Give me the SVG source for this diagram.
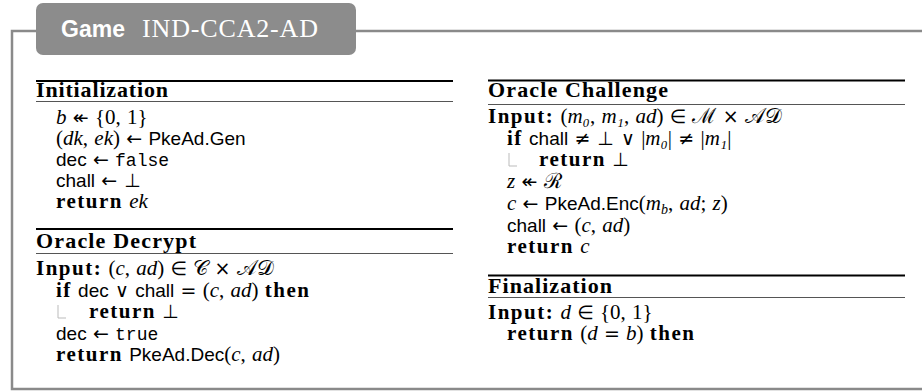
<svg xmlns="http://www.w3.org/2000/svg" width="922" height="391" viewBox="0 0 922 391">
<style>
.fr{fill:none;stroke:#8a8a8a;stroke-width:2.5}
.thick{stroke:#000;stroke-width:1.8}
.thin{stroke:#555;stroke-width:1}
.t{font-family:"Liberation Serif","DejaVu Serif",serif;font-size:21px;fill:#000;word-spacing:1px}
.b{font-weight:bold;letter-spacing:1.5px}
.h{font-weight:bold;font-size:22px;letter-spacing:0;word-spacing:0}
.i{font-style:italic}
.s{font-family:"Liberation Sans","DejaVu Sans",sans-serif;font-size:19px}
.m{font-family:"Liberation Mono","DejaVu Sans Mono",monospace;font-size:18px}
.y{font-family:"DejaVu Sans",sans-serif;font-size:19px}
.lb{fill:none;stroke:#bbb;stroke-width:1}
</style>
<g id="frame">
<path class="fr" d="M36,31 H12 V389 H922"/>
<path class="fr" d="M356,31 H922"/>
</g>
<g id="title">
<rect x="36" y="3" width="320" height="52" rx="7" fill="#8c8c8c"/>
<text x="61" y="37" font-family="Liberation Sans,sans-serif" font-weight="bold" font-size="23" fill="#fff">Game</text>
<text x="142" y="37" font-family="Liberation Serif,serif" font-size="26" fill="#fff" textLength="176">IND-CCA2-AD</text>
</g>
<g id="initialization">
<line class="thick" x1="36" y1="81" x2="453" y2="81"/>
<text class="t h" x="36" y="97" textLength="132">Initialization</text>
<line class="thin" x1="36" y1="101.5" x2="453" y2="101.5"/>
<text class="t" x="56" y="124"><tspan class="i">b</tspan> <tspan class="y">↞</tspan> {0, 1}</text>
<text class="t" x="56" y="145">(<tspan class="i">dk</tspan>, <tspan class="i">ek</tspan>) <tspan class="y">←</tspan> <tspan class="s">PkeAd.Gen</tspan></text>
<text class="t" x="56" y="166"><tspan class="s">dec</tspan> <tspan class="y">←</tspan> <tspan class="m">false</tspan></text>
<text class="t" x="56" y="187"><tspan class="s">chall</tspan> <tspan class="y">← ⊥</tspan></text>
<text class="t" x="56" y="208"><tspan class="b">return</tspan> <tspan class="i">ek</tspan></text>
</g>
<g id="oracle-decrypt">
<line class="thick" x1="36" y1="229" x2="453" y2="229"/>
<text class="t h" x="36" y="248" textLength="160">Oracle Decrypt</text>
<line class="thin" x1="36" y1="253.5" x2="453" y2="253.5"/>
<text class="t" x="36" y="275"><tspan class="b">Input:</tspan> (<tspan class="i">c</tspan>, <tspan class="i">ad</tspan>) <tspan class="y">∈</tspan> 𝒞 <tspan class="y">×</tspan> 𝒜𝒟</text>
<text class="t" x="56" y="297"><tspan class="b">if</tspan> <tspan class="s">dec</tspan> <tspan class="y">∨</tspan> <tspan class="s">chall</tspan> <tspan class="y">=</tspan> (<tspan class="i">c</tspan>, <tspan class="i">ad</tspan>) <tspan class="b">then</tspan></text>
<path class="lb" d="M58,305 V318 H66"/>
<text class="t" x="89" y="318"><tspan class="b">return</tspan> <tspan class="y">⊥</tspan></text>
<text class="t" x="56" y="340"><tspan class="s">dec</tspan> <tspan class="y">←</tspan> <tspan class="m">true</tspan></text>
<text class="t" x="56" y="361"><tspan class="b">return</tspan> <tspan class="s">PkeAd.Dec</tspan>(<tspan class="i">c</tspan>, <tspan class="i">ad</tspan>)</text>
</g>
<g id="oracle-challenge">
<line class="thick" x1="488" y1="80.5" x2="905" y2="80.5"/>
<text class="t h" x="488" y="97" textLength="180">Oracle Challenge</text>
<line class="thin" x1="488" y1="104.5" x2="905" y2="104.5"/>
<text class="t" x="488" y="123"><tspan class="b">Input:</tspan> (<tspan class="i">m₀</tspan>, <tspan class="i">m₁</tspan>, <tspan class="i">ad</tspan>) <tspan class="y">∈</tspan> ℳ <tspan class="y">×</tspan> 𝒜𝒟</text>
<text class="t" x="507" y="145"><tspan class="b">if</tspan> <tspan class="s">chall</tspan> <tspan class="y">≠ ⊥ ∨</tspan> |<tspan class="i">m₀</tspan>| <tspan class="y">≠</tspan> |<tspan class="i">m₁</tspan>|</text>
<path class="lb" d="M509,153 V166 H517"/>
<text class="t" x="539" y="166"><tspan class="b">return</tspan> <tspan class="y">⊥</tspan></text>
<text class="t" x="507" y="188"><tspan class="i">z</tspan> <tspan class="y">↞</tspan> ℛ</text>
<text class="t" x="507" y="210"><tspan class="i">c</tspan> <tspan class="y">←</tspan> <tspan class="s">PkeAd.Enc</tspan>(<tspan class="i">m</tspan><tspan class="i" font-size="14" baseline-shift="-4">b</tspan>, <tspan class="i">ad</tspan>; <tspan class="i">z</tspan>)</text>
<text class="t" x="507" y="232"><tspan class="s">chall</tspan> <tspan class="y">←</tspan> (<tspan class="i">c</tspan>, <tspan class="i">ad</tspan>)</text>
<text class="t" x="507" y="253"><tspan class="b">return</tspan> <tspan class="i">c</tspan></text>
</g>
<g id="finalization">
<line class="thick" x1="488" y1="275.5" x2="905" y2="275.5"/>
<text class="t h" x="488" y="293" textLength="124">Finalization</text>
<line class="thin" x1="488" y1="297.5" x2="905" y2="297.5"/>
<text class="t" x="488" y="319"><tspan class="b">Input:</tspan> <tspan class="i">d</tspan> <tspan class="y">∈</tspan> {0, 1}</text>
<text class="t" x="507" y="340"><tspan class="b">return</tspan> (<tspan class="i">d</tspan> <tspan class="y">=</tspan> <tspan class="i">b</tspan>) <tspan class="b">then</tspan></text>
</g>
</svg>
